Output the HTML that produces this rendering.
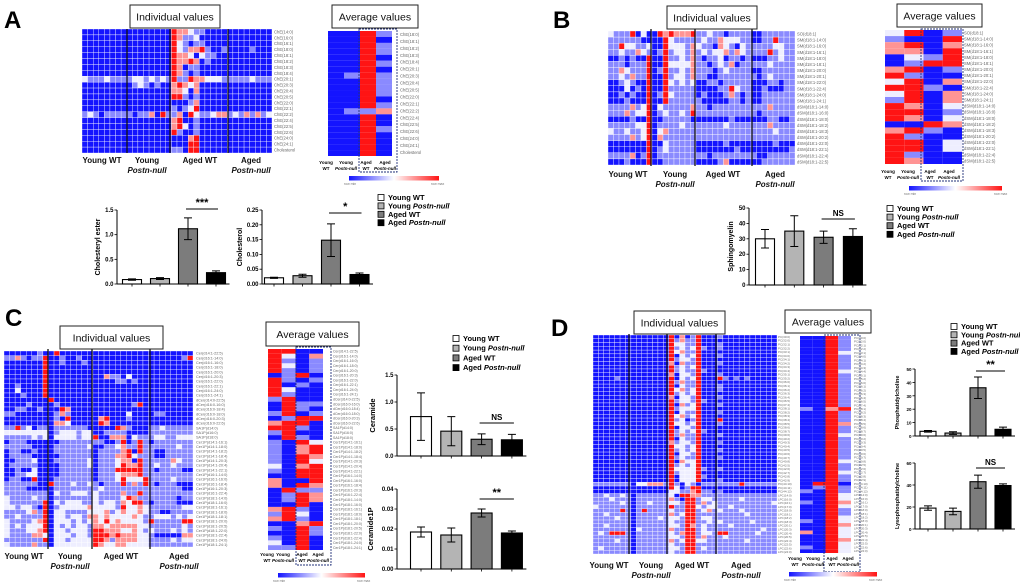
<!DOCTYPE html>
<html><head><meta charset="utf-8"><style>
html,body{margin:0;padding:0;background:#fff}
svg{display:block;font-family:"Liberation Sans",sans-serif}
</style></head><body>
<svg id="fig" width="1020" height="588" viewBox="0 0 1020 588" xmlns="http://www.w3.org/2000/svg">
<defs><linearGradient id="cbar" x1="0" x2="1" y1="0" y2="0"><stop offset="0" stop-color="#1414ff"/><stop offset="0.5" stop-color="#ffffff"/><stop offset="1" stop-color="#ff1414"/></linearGradient></defs>
</svg>
<script>
// ---------- DATA ----------
const groups = ["Young WT","Young Postn-null","Aged WT","Aged Postn-null"];
// Panel A bar charts
const cholEsterVals = [0.09,0.11,1.12,0.23];
const cholEsterErrs = [0.015,0.02,0.22,0.035];
const cholEsterTicks = [0,0.5,1.0,1.5];
const cholEsterTickLabels = ["0.0","0.5","1.0","1.5"];
const cholVals = [0.021,0.028,0.148,0.032];
const cholErrs = [0.002,0.005,0.055,0.005];
const cholTicks = [0,0.05,0.10,0.15,0.20,0.25];
const cholTickLabels = ["0.00","0.05","0.10","0.15","0.20","0.25"];
// Panel B
const smVals = [30,35,31,31.5];
const smErrs = [6,10,4,5];
const smTicks = [0,10,20,30,40,50];
const smTickLabels = ["0","10","20","30","40","50"];
// Panel C
const cerVals = [0.73,0.46,0.31,0.30];
const cerErrs = [0.44,0.27,0.10,0.10];
const cerTicks = [0,0.5,1.0,1.5];
const cerTickLabels = ["0.0","0.5","1.0","1.5"];
const c1pVals = [0.0185,0.017,0.028,0.018];
const c1pErrs = [0.0025,0.0035,0.002,0.001];
const c1pTicks = [0,0.01,0.02,0.03,0.04];
const c1pTickLabels = ["0.00","0.01","0.02","0.03","0.04"];
// Panel D
const pcVals = [3.5,2.2,36,5];
const pcErrs = [0.6,1,8,1.6];
const pcTicks = [0,10,20,30,40,50];
const pcTickLabels = ["0","10","20","30","40","50"];
const lpcVals = [19,16,43,39.5];
const lpcErrs = [2,3,6,1.5];
const lpcTicks = [0,20,40,60];
const lpcTickLabels = ["0","20","40","60"];

// Heatmap levels: 0 blue .. 4 red
const heatA = ["00000000 00000000 4332110000 00000000","00000000 00000000 4311200000 00000000","00000000 00000000 4210110000 00000000","00000000 00000000 4213341001 00001000","00000000 00000000 4332021100 00000000","00000000 00000000 4334301000 00000000","00000000 00000000 4301100000 00000000","00000000 00000000 4310100000 00000000","21112111 12212121 4114332221 11112111","00000000 01210100 3432300000 00000000","00000000 00000000 3320300000 00000000","00000000 00000000 4410100000 00000000","00000000 00000000 0001300000 00000000","00000000 00000000 1012400000 00000000","12101111 10113041 1304211233 12131312","00000000 00000000 3400100000 00000000","00000000 00000000 3420100000 00000000","00000000 00000000 4100100000 00000000","00000000 00000000 0003400000 00000000","00000000 00000000 0004400000 00000000","00000000 00000000 1104400000 00000000"];
const heatAavg = ["0041","0040","0041","0041","0040","0041","0040","0141","0041","0041","0041","0040","0041","0113","0040","0040","0041","0040","0040","0040","0040"];
const labelsA = ["ChE(14:0)","ChE(16:0)","ChE(16:1)","ChE(18:0)","ChE(18:1)","ChE(18:2)","ChE(18:3)","ChE(18:4)","ChE(20:1)","ChE(20:3)","ChE(20:4)","ChE(20:5)","ChE(22:0)","ChE(22:1)","ChE(22:2)","ChE(22:4)","ChE(22:5)","ChE(22:6)","ChE(24:0)","ChE(24:1)","Cholesterol"];
const labelsAavg = ["ChE(18:0)","ChE(18:1)","ChE(18:2)","ChE(18:3)","ChE(18:4)","ChE(20:1)","ChE(20:3)","ChE(20:4)","ChE(20:5)","ChE(22:0)","ChE(22:1)","ChE(22:2)","ChE(22:4)","ChE(22:5)","ChE(22:6)","ChE(24:0)","ChE(24:1)","Cholesterol"];

const heatB = ["21114020 04343334 1121101111 00111111","11111100 00421111 1211322211 00114111","11422112 00422213 2110321021 11112211","11211321 01412213 1212231321 11141211","00101004 00411213 1011201101 00011211","11101114 00422223 1101213011 11121111","11321114 01411213 1110121111 00111111","11213114 00412213 1100111111 10121111","00121004 00421212 0011011111 00011011","00020104 00411111 0000114211 00100011","00101004 01421111 0100013101 00111111","00010004 00411111 1000001101 00111111","11113124 02111113 1101111111 11131111","11131224 01211214 1111111111 10111111","00001004 00111110 0000001000 00011001","11111224 01111211 1111121111 11131111","21121124 02311111 1111111111 11112111","11113124 03111111 1111111111 11111111","00000004 00211111 0000010000 00001000","00000004 01211111 0000000100 00000001","11113014 01111111 1101111111 10011111","00010004 00111111 0000130000 00111111"];
const heatBavg = ["2401","1004","3403","3304","0214","0144","3401","4100","2403","4410","2403","1403","4302","4401","4302","0043","3410","4100","4402","4402","4100","4300"];
const labelsB = ["SO(d18:1)","SM(d18:1-14:0)","SM(d18:1-16:0)","SM(d18:1-16:1)","SM(d18:1-18:0)","SM(d18:1-18:1)","SM(d18:1-20:0)","SM(d18:1-20:1)","SM(d18:1-22:0)","SM(d18:1-22:4)","SM(d18:1-24:0)","SM(d18:1-24:1)","dSM(d18:1-14:0)","dSM(d18:1-16:0)","dSM(d18:1-18:0)","dSM(d18:1-18:2)","dSM(d18:1-18:3)","dSM(d18:1-20:2)","dSM(d18:1-22:0)","dSM(d18:1-22:1)","dSM(d18:1-22:4)","dSM(d18:1-22:5)"];

const heatC = ["00000010 04000000 0000000000 00000000","11310114 00100100 0000000000 00000014","00000004 00100010 0000000000 00000000","00000004 00000000 0000000000 00000000","00000004 00000000 0000000000 00000000","00000004 00000000 0031102000 00000000","00000004 00000000 0000110100 00000000","00100004 00000000 0000000000 00000000","00200004 00000000 0000000000 00000000","00010004 00000000 0000000000 00000000","00000000 40000000 0000000000 00000000","00001000 01000000 0000000140 00000000","00110010 00430000 0000000000 00000000","11000000 01310000 0000002000 01100000","00000000 01040000 0340001000 00000000","00000000 03320000 0430000000 00000000","11412011 01111110 0000431000 11211111","22222222 01222122 0011110000 11111111","11111212 02222122 4003330211 12211222","01110000 00111111 1100140141 01111111","11111000 01111112 0011231141 11111211","01100100 01111111 0111134041 10011111","01111000 00111111 0111334211 10011111","00111200 01111112 0111233041 11113211","01111100 00111112 0111243341 12112111","00100200 00111111 0111444441 10111100","00112200 00111111 0111233341 11111111","01100400 01111111 0111242224 11112111","11111100 41112112 1011141314 10111000","11110000 01111111 1211111111 11111100","11111111 02112221 2111131141 11111111","21111211 01111111 2111124311 11111011","21111114 02122211 2122132441 01111000","22122104 01222223 2222142232 11111122","11112314 02211112 2231232232 11001111","11211114 02212213 3232222321 12221212","21111234 02221212 3242322221 41111144","21212224 02121221 3323333322 11111121","21112234 02212221 4433322321 21112121","21111332 02221221 4443433322 10000033","11111114 02212222 4431333322 11112122","21111311 02222222 4322332222 11111111"];
const heatCavg = ["4400","4203","4101","4201","4101","0140","4101","4010","4200","4100","1400","0411","0410","1401","0144","3440","4410","1400","0410","1042","1034","1034","1043","1042","2034","1044","0044","3004","3043","0411","0143","0143","0040","3410","1420","3410","0034","1041","0041","1040","2040","1140"];
const labelsC = ["Cer(d14:1-22:5)","Cer(d16:1-14:0)","Cer(d16:1-16:0)","Cer(d16:1-18:0)","Cer(d16:1-20:0)","Cer(d16:1-20:3)","Cer(d16:1-22:0)","Cer(d16:1-22:1)","Cer(d16:1-24:0)","Cer(d16:1-24:1)","dCer(d14:0-22:5)","dCer(d16:0-16:0)","dCer(d16:0-18:4)","dCer(d16:0-18:0)","dCer(d16:0-20:3)","dCer(d16:0-22:6)","SA1P(d14:0)","SA1P(d16:0)","SA1P(d18:0)","Cer1P(d14:1-16:1)","Cer1P(d14:1-18:0)","Cer1P(d14:1-18:2)","Cer1P(d14:1-18:4)","Cer1P(d14:1-20:3)","Cer1P(d14:1-20:4)","Cer1P(d14:1-22:1)","Cer1P(d16:1-14:0)","Cer1P(d16:1-16:0)","Cer1P(d16:1-18:4)","Cer1P(d16:1-20:3)","Cer1P(d16:1-22:4)","Cer1P(d18:1-14:0)","Cer1P(d18:1-16:0)","Cer1P(d18:1-16:1)","Cer1P(d18:1-18:0)","Cer1P(d18:1-18:1)","Cer1P(d18:1-20:0)","Cer1P(d18:1-20:5)","Cer1P(d18:1-22:0)","Cer1P(d18:1-22:4)","Cer1P(d18:1-24:0)","Cer1P(d18:1-24:1)"];

const heatD = ["0000000 0000000 403014000 10000000000","0000000 0000000 413114000 00000000000","0000000 0000000 422114000 10000000000","0000000 0000000 412124100 10000000000","0000000 0000000 423114000 00000000000","0000000 0000000 402124000 10000000000","0000000 0000000 412214000 00000000000","0000000 0000000 303114000 10000000000","0000000 0000000 412124000 00000000000","0000000 0000000 412114100 00000000000","0000000 0000000 302214000 10000000000","0000100 0000000 402124000 41010100000","0000000 0000000 413114000 00000000000","0000000 0000000 402114000 10000000000","0000000 0000000 423124000 10000000000","0000000 0000000 412124000 00000000000","0000000 0000000 302214000 10000000000","0000000 0000000 412214100 00000000000","0000000 0000000 403124000 10000000000","0000000 0000000 412224000 00000000000","0000000 0000000 402114000 10000000000","0000000 0000000 423124000 00000000000","0000000 0000000 412014000 40000000000","0000000 0000000 422124000 10000000000","0000000 0000000 402214000 00000000000","0000000 0000000 412124100 00000000000","0000000 0000000 413114000 10000000000","0000000 0000000 402114000 00000000000","0000000 0000000 312214000 10000000000","0000000 0000000 422124000 00000000000","0000000 0000000 412124000 10000000000","0000000 0000000 402214000 00000000000","0000000 0000000 412114000 10000000000","0000000 0000000 403224000 00000000000","0000000 0000000 412124000 00000000000","0000000 0000000 422224100 10000000000","0000000 0000000 412224000 00000000000","0000000 0000000 402224100 00000000000","0000000 0000000 402224000 10000000000","1111111 0223331 410210111 11114111111","0000000 0000000 420144000 00000000000","0000000 0000000 221134110 10000000000","1121121 0111111 204433111 11111111111","1112111 0111111 310441221 11112111111","1111121 0112111 221441312 11111111112","2111111 0111111 411442122 11211111111","1111141 0141111 211441231 21112111111","1121111 0111111 312441111 11111211111","1111211 0111121 221441221 11111111111","1111111 0111111 211441121 21111121111","1121111 0111111 221431211 11211111111","1111111 0211111 311441211 11111111211","1214441 0111111 213441221 44111112111","1111111 0111111 221441311 12111111111","1111211 0111111 312442211 11111211111","1111111 0111111 211441111 11111111111","1211111 0111111 221441211 11111111111","1111111 0111111 211441111 11111111111"];
const heatDavg = ["0041","0041","0041","0041","0042","0041","0041","0041","0041","0042","0041","0041","0041","0041","0041","0041","0041","0041","0041","1034","0041","0041","0041","0043","0041","0041","0042","0041","0041","0041","0041","0041","0041","0042","0041","0041","0042","0041","0041","0440","0141","1041","0042","0042","1043","0042","0041","0041","0042","1042","0043","0042","3042","0042","0043","0042","1042","0042"];
const labelsD = ["PC(30:0)","PC(32:0)","PC(32:1)","PC(32:2)","PC(33:1)","PC(34:0)","PC(34:1)","PC(34:2)","PC(34:3)","PC(34:4)","PC(35:1)","PC(35:2)","PC(36:0)","PC(36:1)","PC(36:2)","PC(36:3)","PC(36:4)","PC(36:5)","PC(37:4)","PC(38:1)","PC(38:2)","PC(38:3)","PC(38:4)","PC(38:5)","PC(38:6)","PC(38:7)","PC(39:6)","PC(40:2)","PC(40:3)","PC(40:4)","PC(40:5)","PC(40:6)","PC(40:7)","PC(40:8)","PC(42:5)","PC(42:6)","PC(42:7)","PC(42:8)","PC(42:9)","PC(44:10)","PC(44:11)","PC(44:12)","LPC(14:0)","LPC(16:0)","LPC(16:1)","LPC(17:0)","LPC(18:0)","LPC(18:1)","LPC(18:2)","LPC(18:3)","LPC(20:1)","LPC(20:3)","LPC(20:4)","LPC(20:5)","LPC(22:4)","LPC(22:5)","LPC(22:6)","LPC(24:0)"];

// ---------- DRAWING ----------
const NS = "http://www.w3.org/2000/svg";
const svg = document.getElementById('fig');
const PAL = ['#1414ff','#8a8aff','#eeeeff','#ff9494','#ff1414'];
const FILLS = ['#ffffff','#b4b4b4','#7c7c7c','#000000'];
function mk(tag, attrs, parent){ const e=document.createElementNS(NS,tag); for(const k in attrs) e.setAttribute(k,attrs[k]); (parent||svg).appendChild(e); return e; }
function txt(s, attrs, parent){ const e=mk('text',attrs,parent); e.textContent=s; return e; }

function heatmap(name, rows, x, y, w, h, grid){
  const g = mk('g',{});
  
  
  const nr = rows.length;
  rows.forEach((r, i) => {
    const cells = r.replace(/ /g,'');
    const nc = cells.length, cw = w/nc, ch = h/nr;
    for (let j=0;j<nc;j++){
      const c = mk('rect',{x:x+j*cw,y:y+i*ch,width:cw,height:ch,fill:PAL[+cells[j]],stroke:grid?'#fff':'none','stroke-width':grid?0.35:0},g);
      
      
    }
  });
  return g;
}
function rowLabels(name, list, x, y, h, size){
  const g = mk('g',{});
  
  
  const step = h/list.length;
  list.forEach((s,i)=>{ txt(s,{x:x,y:y+step*(i+0.5)+size*0.35,'font-size':size,fill:'#666'},g); });
}
function titleBox(name, label, x, y, w, h){
  const g = mk('g',{});
  
  
  mk('rect',{x:x,y:y,width:w,height:h,fill:'#fff',stroke:'#222','stroke-width':1},g);
  txt(label,{x:x+w/2,y:y+h/2+3.8,'font-size':10.5,'text-anchor':'middle',fill:'#111'},g);
}
function groupLabels(name, items, y){
  const g = mk('g',{});
  
  
  items.forEach(([a,b,x])=>{
    txt(a,{x:x,y:y,'font-size':8,'font-weight':'bold','text-anchor':'middle',fill:'#111'},g);
    if(b) txt(b,{x:x,y:y+10,'font-size':8,'font-weight':'bold','font-style':'italic','text-anchor':'middle',fill:'#111'},g);
  });
}
function avgColLabels(name, xs, y){
  const g = mk('g',{});
  
  
  const top=["Young","Young","Aged","Aged"], bot=["WT","Postn-null","WT","Postn-null"];
  xs.forEach((x,i)=>{
    txt(top[i],{x:x,y:y,'font-size':4.5,'font-weight':'bold','text-anchor':'middle'},g);
    txt(bot[i],{x:x,y:y+6,'font-size':4.5,'font-weight':'bold','font-style':i%2?'italic':'normal','text-anchor':'middle'},g);
  });
}
function dashed(name, x, y, w, h){
  const r = mk('rect',{x:x,y:y,width:w,height:h,fill:'none',stroke:'#22307a','stroke-width':0.9,'stroke-dasharray':'2,1'});
  
  
}
function colorBar(name, x, y, w){
  const g = mk('g',{});
  
  
  mk('rect',{x:x,y:y,width:w,height:4.5,fill:'url(#cbar)'},g);
  txt('row min',{x:x-5,y:y+9,'font-size':3.5,fill:'#777'},g);
  txt('row max',{x:x+w-8,y:y+9,'font-size':3.5,fill:'#777'},g);
}
function vline(name, x, y1, y2){
  const l = mk('line',{x1:x,x2:x,y1:y1,y2:y2,stroke:'#111','stroke-width':1.3});
  
  
}
function panelLetter(s, x, y, size){
  const t = txt(s,{x:x,y:y,'font-size':size,'font-weight':'bold',fill:'#000'});
  
  
}
function legend(name, x, y, step){
  const g = mk('g',{});
  
  
  groups.forEach((gname,i)=>{
    const e = mk('g',{},g);
    
    
    mk('rect',{x:x,y:y+i*step-5.5,width:6,height:6,fill:FILLS[i],stroke:'#000','stroke-width':0.8},e);
    const parts = gname.split(' ');
    const t = txt('',{x:x+10,y:y+i*step,'font-size':7.5,'font-weight':'bold'},e);
    const s1 = document.createElementNS(NS,'tspan'); s1.textContent = parts[0]+' '; t.appendChild(s1);
    const s2 = document.createElementNS(NS,'tspan'); s2.textContent = parts[1]; if(parts[1]!=='WT') s2.setAttribute('font-style','italic'); t.appendChild(s2);
  });
}
function barChart(name, o, vals, errs, ticks, tickLabels){
  const g = mk('g',{});
  
  
  const Y = v => o.base - v/o.max*(o.base-o.top);
  const X = i => o.c0 + i*o.step;
  mk('line',{x1:o.ax,x2:o.ax,y1:o.top,y2:o.base,stroke:'#000','stroke-width':1},g);
  mk('line',{x1:o.ax,x2:X(vals.length-1)+o.bw/2+4,y1:o.base,y2:o.base,stroke:'#000','stroke-width':1},g);
  ticks.forEach((t,i)=>{
    mk('line',{x1:o.ax-2.5,x2:o.ax,y1:Y(t),y2:Y(t),stroke:'#000','stroke-width':0.8},g);
    const tl = txt(tickLabels[i],{x:o.ax-3.5,y:Y(t)+2,'font-size':o.fs||6,'font-weight':'bold','text-anchor':'end'},g);
    
    
  });
  const yl = txt(o.ylabel,{x:0,y:0,'font-size':o.yfs||7,'font-weight':'bold','text-anchor':'middle',transform:`translate(${o.ax-o.ylo},${(o.top+o.base)/2}) rotate(-90)`},g);
  
  
  vals.forEach((v,i)=>{
    const cx = X(i);
    const b = mk('rect',{x:cx-o.bw/2,y:Y(v),width:o.bw,height:o.base-Y(v),fill:FILLS[i],stroke:'#000','stroke-width':1.1},g);
    
    
    const e = errs[i];
    const eb = mk('path',{d:`M${cx},${Y(v+e)}V${Y(Math.max(v-e,0))}M${cx-4},${Y(v+e)}H${cx+4}M${cx-4},${Y(Math.max(v-e,0))}H${cx+4}`,stroke:'#000','stroke-width':1,fill:'none'},g);
    
    
    mk('line',{x1:cx,x2:cx,y1:o.base,y2:o.base+2.5,stroke:'#000','stroke-width':0.8},g);
  });
  if(o.sig){
    const [a,b,label,ly] = o.sig;
    const s = mk('line',{x1:X(a)-2,x2:X(b)+2,y1:ly,y2:ly,stroke:'#000','stroke-width':1},g);
    
    
    const st = txt(label,{x:(X(a)+X(b))/2,y:ly-3,'font-size':label==='NS'?8:11,'font-weight':'bold','text-anchor':'middle'},g);
    
    
  }
}

// ---------- PANEL A ----------
panelLetter('A',4,28,24);
titleBox('individual-values-title-a','Individual values',130,5,90,23);
heatmap('heatmap-individual-a',heatA,82,29,190,124,true);
rowLabels('row-labels-a',labelsA,274,29,124,4.2);
[127,170,228].forEach(x=>vline('group-divider-a',x,29,153));
groupLabels('group-labels-a',[["Young WT","",102],["Young","Postn-null",147],["Aged WT","",200],["Aged","Postn-null",251]],163);
titleBox('average-values-title-a','Average values',332,5,86,23);
heatmap('heatmap-average-a',heatAavg,328,31,64,125,false);
dashed('aged-highlight-a',359,29,38,143);
rowLabels('row-labels-avg-a',labelsAavg,400,31,125,4.2);
avgColLabels('avg-col-labels-a',[326,346,366,385],164);
colorBar('color-scale-a',349,176,90);
barChart('chart-cholesteryl-ester',{ax:117,base:284,top:210,max:1.5,c0:132,step:28,bw:19,ylabel:'Cholesteryl ester',ylo:17,sig:[2,3,'***',209]},cholEsterVals,cholEsterErrs,cholEsterTicks,cholEsterTickLabels);
barChart('chart-cholesterol',{ax:262,base:284,top:210,max:0.25,c0:274,step:28.5,bw:19,ylabel:'Cholesterol',ylo:20,sig:[2,3,'*',213]},cholVals,cholErrs,cholTicks,cholTickLabels);
legend('legend-a',378,200,8.4);

// ---------- PANEL B ----------
panelLetter('B',553,28,24);
titleBox('individual-values-title-b','Individual values',667,6,90,23);
heatmap('heatmap-individual-b',heatB,608,31,187,134,true);
rowLabels('row-labels-b',labelsB,797,31,134,4.2);
[651,695,752].forEach(x=>vline('group-divider-b',x,29,166));
groupLabels('group-labels-b',[["Young WT","",628],["Young","Postn-null",675],["Aged WT","",723],["Aged","Postn-null",775]],177);
titleBox('average-values-title-b','Average values',897,4,85,23);
heatmap('heatmap-average-b',heatBavg,885,30,77,134,false);
dashed('aged-highlight-b',921,29,42,152);
rowLabels('row-labels-avg-b',labelsB,964,30,134,4.2);
avgColLabels('avg-col-labels-b',[888,908,930,949],173);
colorBar('color-scale-b',909,186,93);
barChart('chart-sphingomyelin',{ax:749,base:285,top:208,max:50,c0:765,step:29.3,bw:19,ylabel:'Sphingomyelin',ylo:16,sig:[2,3,'NS',219]},smVals,smErrs,smTicks,smTickLabels);
legend('legend-b',887,211,8.6);

// ---------- PANEL C ----------
panelLetter('C',5,326,24);
titleBox('individual-values-title-c','Individual values',60,326,103,23);
heatmap('heatmap-individual-c',heatC,4,351,189,196,true);
rowLabels('row-labels-c',labelsC,196,351,196,3.8);
[48,92,150].forEach(x=>vline('group-divider-c',x,349,549));
groupLabels('group-labels-c',[["Young WT","",24],["Young","Postn-null",70],["Aged WT","",121],["Aged","Postn-null",179]],559);
titleBox('average-values-title-c','Average values',266,322,93,24);
heatmap('heatmap-average-c',heatCavg,268,349,55,201,false);
dashed('aged-highlight-c',296,347,35,218);
rowLabels('row-labels-avg-c',labelsC,333,349,201,3.5);
avgColLabels('avg-col-labels-c',[267,283,302,318],556);
colorBar('color-scale-c',278,573,87);
barChart('chart-ceramide',{ax:397,base:456,top:375,max:1.5,c0:421,step:30.3,bw:21,ylabel:'Ceramide',ylo:22,yfs:7.5,sig:[2,3,'NS',423]},cerVals,cerErrs,cerTicks,cerTickLabels);
barChart('chart-ceramide1p',{ax:397,base:569,top:489,max:0.04,c0:421,step:30.3,bw:21,ylabel:'Ceramide1P',ylo:24,yfs:7.5,sig:[2,3,'**',499]},c1pVals,c1pErrs,c1pTicks,c1pTickLabels);
legend('legend-c',453,341,9.7);

// ---------- PANEL D ----------
panelLetter('D',551,336,24);
titleBox('individual-values-title-d','Individual values',634,311,91,23);
heatmap('heatmap-individual-d',heatD,593,335,184,219,true);
rowLabels('row-labels-d',labelsD,778,335,219,3);
[629,667,716].forEach(x=>vline('group-divider-d',x,334,554));
groupLabels('group-labels-d',[["Young WT","",609],["Young","Postn-null",651],["Aged WT","",692],["Aged","Postn-null",741]],568);
titleBox('average-values-title-d','Average values',785,310,86,23);
heatmap('heatmap-average-d',heatDavg,800,336,51,217,false);
dashed('aged-highlight-d',824,335,36,237);
rowLabels('row-labels-avg-d',labelsD,854,336,217,3);
avgColLabels('avg-col-labels-d',[795,813,832,848],560);
colorBar('color-scale-d',789,572,88);
barChart('chart-phosphatidylcholine',{ax:915,base:436,top:369,max:50,c0:928,step:25,bw:16,ylabel:'Phosphatidylcholine',ylo:16,yfs:5.5,fs:4.5,sig:[2,3,'**',371]},pcVals,pcErrs,pcTicks,pcTickLabels);
barChart('chart-lysophosphatidylcholine',{ax:915,base:529,top:463,max:60,c0:928,step:25,bw:16,ylabel:'Lysophosphatidylcholine',ylo:16,yfs:5.5,fs:4.5,sig:[2,3,'NS',468]},lpcVals,lpcErrs,lpcTicks,lpcTickLabels);
legend('legend-d',951,329,8.3);
</script>
</body></html>
